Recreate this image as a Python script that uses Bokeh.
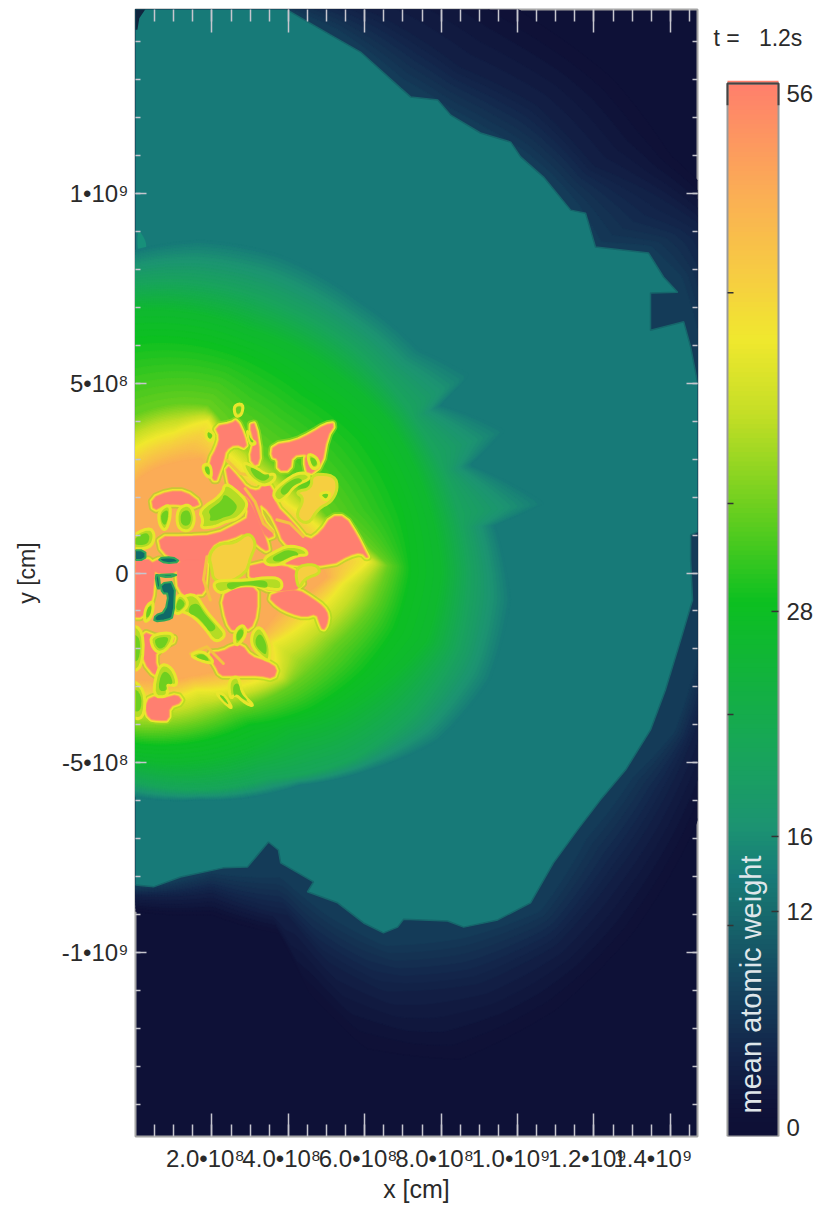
import numpy as np
from bokeh.embed import file_html
from bokeh.layouts import row
from bokeh.models import AllLabels, FixedTicker, Label, LinearAxis, Range1d
from bokeh.plotting import figure
from bokeh.resources import INLINE

UNIT = 1e8  # contour tables are in units of 1e8 cm
TIME_LABEL = "t =\u00a0\u00a0\u00a01.2s"
BAR_LABEL = "mean atomic weight"
PAD = "\u00a0\u00a0"
X_TICKS = [2e8, 4e8, 6e8, 8e8, 1e9, 1.2e9, 1.4e9]
X_LABELS = ["2.0•10⁸", "4.0•10⁸", "6.0•10⁸", "8.0•10⁸", "1.0•10⁹", "1.2•10⁹", "1.4•10⁹"]
Y_TICKS = [-1e9, -5e8, 0, 5e8, 1e9]
Y_LABELS = ["-1•10⁹", "-5•10⁸", "0", "5•10⁸", "1•10⁹"]
BAR_TICKS = [12, 16, 28]
BAR_TICK_LABELS = ["12", "16", "28"]
BAR_TICKS_LEFT = [11.25, 22.5, 33.75, 45]

# colour table: mean atomic weight -> colour
A_STOPS = [0, 1, 4, 8, 12, 13.3, 16, 20, 28, 33, 38, 42, 45, 50, 56]
C_STOPS = ["#0e1036", "#0f1238", "#13254a", "#154860", "#17706f", "#177a78", "#1c9372", "#18a55a",
           "#0cc020", "#6ccf1f", "#c4de26", "#f0e82e", "#f6cf40", "#fbac56", "#ff7c6e"]

# outer ejecta edge
EDGE = [(-1, 16), (0, 16), (3.93, 14.84), (5.1, 14.16), (5.89, 13.71), (6.94, 12.76), (7.2, 12.53), (7.91, 12.45),
        (8.25, 12.05), (9.03, 11.58), (9.82, 11.34), (10.08, 10.95), (10.68, 10.42), (11.39, 9.55), (11.78, 9.47),
        (12.04, 8.58), (13.43, 8.42), (13.82, 7.79), (14.19, 7.39), (13.48, 7.37), (13.48, 6.39), (14.35, 6.61),
        (14.53, 5.95), (14.8, 4.55), (14.8, 1.13), (14.53, 1.0), (14.53, .34), (14.58, -.71), (14.27, -1.76),
        (13.87, -3.08), (13.48, -4.13), (12.83, -5.18), (12.17, -5.97), (11.57, -6.76), (10.94, -7.63), (10.34, -8.68),
        (9.48, -9.13), (8.59, -9.32), (8.17, -9.16), (7.02, -9.11), (6.86, -9.32), (6.49, -9.47), (5.97, -9.21),
        (5.29, -8.68), (4.5, -8.39), (4.66, -8.13), (3.8, -7.63), (3.74, -7.29), (3.48, -7.08), (2.93, -7.74),
        (2.3, -7.76), (1.18, -8.0), (.47, -8.26), (0, -8.21), (-1, -8.21)]

# faint glow outside the edge: (weight, contour)
HALO = [
    (0.6, [(3.5, 16.5), (8, 16), (10.5, 14.5), (12.5, 13), (14, 11), (15.5, 9.5), (16, 6), (16, 1), (16, -1.5), (15.5, -4),
           (14.5, -7), (13, -9.5), (11, -11.5), (8.5, -12.8), (6, -12.5), (4.5, -11), (3.8, -9.5), (2, -9), (0, -8.9)]),
    (3.5, [(3.8, 15.5), (6.5, 14.6), (8.5, 13.3), (10.5, 12.3), (12, 10.7), (13.5, 10), (15, 9), (15.3, 7.5), (15.5, 1),
           (15.3, -1.7), (14.7, -4), (13.8, -6), (12.5, -8), (11, -9.8), (9, -10.8), (6.5, -11), (5, -10.2), (4, -9),
           (2, -8.4), (0, -8.5)]),
    (6.5, [(3.9, 14.9), (5.3, 14.3), (7, 13), (8.3, 12.2), (9.2, 11.7), (10.2, 11.1), (10.9, 10.5), (11.6, 9.7), (12.2, 8.7),
           (13.5, 8.6), (14.3, 7.8), (14.8, 6), (15, 1), (14.8, -1.8), (14.1, -4.2), (13, -5.4), (11.8, -7), (10.6, -8.9),
           (8.6, -9.6), (6.5, -9.8), (5, -9), (3.8, -8), (2, -7.9), (0, -8.3)]),
]

# contours of the inner glow: (weight, contour)
GLOW = [
    (13.3, [(0, 8.5), (1.7, 8.76), (3.8, 8.37), (5.89, 7.18), (7.46, 5.87), (8.77, 5.21), (7.98, 4.42), (9.69, 3.76),
            (8.77, 2.84), (10.73, 1.84), (9.42, 1.26), (9.82, -.71), (9.29, -2.82), (7.98, -4.39), (6.15, -5.18),
            (4.32, -5.58), (1.7, -5.97), (0, -5.89)]),
    (20, [(0, 7.6), (2.2, 7.5), (4, 6.9), (5.8, 5.8), (7.3, 4.0), (8.3, 2), (8.7, 0), (8.4, -2), (7.3, -3.7), (5.7, -4.9),
          (3.5, -5.4), (0, -5.5)]),
    (26, [(0, 6.9), (3, 6.4), (5.3, 5.2), (6.6, 4), (7.6, 2), (8, 0), (7.6, -1.8), (6.5, -2.9), (5.3, -3.7), (4, -4.1), (0, -4.9)]),
    (28, [(0, 6.2), (2.5, 5.9), (4.5, 4.8), (6, 3.6), (7, 1.6), (7.2, 0), (6.8, -1.5), (6, -2.6), (4.6, -3.6), (3, -4), (0, -4.5)]),
    (33, [(0, 4.15), (1.2, 4.45), (1.9, 4.4), (2.4, 3.8), (3.2, 3.2), (4, 2.5), (5, 1.5), (6.2, .6), (6.6, .2), (6.2, -.8), (5.2, -1.9),
          (4, -3.0), (2.5, -3.6), (0, -4.1)]),
    (42, [(0, 3.3), (1, 3.7), (1.9, 4.0), (2.2, 3.3), (3, 2.6), (4, 1.8), (5, 1), (6.1, .3), (5.43, -.27), (4.74, -1.06),
          (3.61, -1.85), (3.7, -2.64), (1.61, -3.08), (1, -3.3), (0, -3.4)]),
    (50, [(0, 2.4), (1, 2.9), (1.7, 3), (2.2, 2.4), (3, 1.8), (4, 1), (4.8, .4), (5, -.1), (3.8, -.9), (3, -1.8), (2.8, -2.3),
          (1.5, -2.7), (0, -2.8)]),
]

# iron-rich plumes
PLUMES = [
    [(2.09, 3.85), (2.52, 3.93), (2.65, 4.02), (2.83, 3.63), (2.91, 3.28), (2.61, 3.41), (2.35, 3.23), (2.3, 2.97), (2.17, 2.62),
     (2.09, 2.4), (1.96, 2.62), (1.96, 2.97), (2.13, 3.28), (2.22, 3.58)],
    [(3.0, 3.89), (3.13, 3.93), (3.26, 3.1), (3.17, 2.8), (3.0, 3.01), (3.11, 3.45)],
    [(3.61, 3.36), (4.17, 3.45), (4.61, 3.67), (4.96, 3.89), (5.22, 3.93), (5.0, 3.58), (4.87, 2.84), (4.52, 2.57), (4.43, 2.97),
     (4.52, 3.15), (4.09, 3.1), (4.04, 2.71), (3.74, 2.71), (3.74, 3.01), (3.57, 3.06)],
    [(2.35, 2.88), (2.7, 2.49), (2.91, 2.22), (3.22, 2.14), (3.35, 2.31), (3.57, 2.27), (3.65, 1.79), (4.09, 1.35), (4.52, .82),
     (4.87, 1.08), (5.13, 1.48), (5.48, 1.48), (5.78, 1.0), (6, .56), (6.09, .38), (5.91, .56), (5.57, .47), (5.13, .21), (4, .21),
     (3.83, .38), (4.17, .64), (3.87, .82), (3.74, 1.17), (3.52, 1.61), (3.22, 1.87), (3.3, 1.43), (3.65, 1), (3.43, .91),
     (3.22, 1.35), (3.04, 1.87), (2.87, 2.05), (2.48, 2.22)],
    [(.61, .95), (1.3, .95), (2.09, .99), (2.7, 1.3), (3.0, 1.48), (2.83, 2.05), (3.04, 1.79), (3.22, 1.35), (3.43, .82),
     (3.48, .56), (3.22, .73), (2.87, 1.08), (2.52, .91), (2.09, .82), (1.87, .51), (1.83, .21), (1.83, -.1), (1.13, .34), (.7, .55)],
    [(1.13, .34), (1.87, .34), (1.83, -.19), (1.78, -.54), (1.57, -.54), (1.48, -.71), (1.13, -.45), (1.09, 0)],
    [(-.2, .34), (.52, .34), (.48, -.19), (.43, -.71), (.22, -1.15), (-.2, -1.15)],
    [(.43, .34), (1.13, .34), (1.13, 0), (.43, 0)],
    [(2.26, -.62), (2.61, -.41), (3.17, -.32), (3.17, -1.06), (3.0, -1.5), (2.78, -1.33), (2.57, -1.55), (2.39, -1.28)],
    [(3.48, -.62), (3.83, -.49), (4.26, -.45), (4.61, -.67), (4.91, -.89), (5.04, -1.11), (5, -1.37), (4.91, -1.5), (4.83, -1.33),
     (4.74, -1.06), (4.43, -1.15), (4.09, -1.06), (3.74, -.89)],
    [(3.0, .3), (4.3, .1), (4.4, -.4), (3.6, -.5), (3.0, -.2)],
    [(1.87, -2.12), (2.3, -2.07), (2.52, -1.94), (2.78, -1.9), (3, -2.2), (3.43, -2.34), (3.7, -2.51), (3.61, -2.77), (3.26, -2.69),
     (2.78, -2.69), (2.48, -2.69), (2.22, -2.69), (2.09, -2.42)],
    [(.39, -3.26), (.78, -3.3), (1.09, -3.21), (1.22, -3.39), (.87, -3.52), (.87, -3.87), (.61, -3.87), (.35, -3.83), (.26, -3.52)],
    [(.17, -1.55), (.61, -1.72), (1.13, -1.72), (.52, -2.03), (.52, -2.47), (.74, -2.82), (.35, -2.55), (.17, -2.12)],
    [(.43, 1.96), (.87, 2.14), (1.3, 2.14), (1.7, 1.83), (1.48, 1.74), (1.04, 1.83), (.74, 1.79), (.48, 1.65)],
]

# yellow filaments running through the plumes
STRANDS = [
    [(2.87, 2.22), (3.13, 1.87), (3.35, 1.3), (3.61, 1.08)],
    [(2.39, 2.97), (2.74, 2.62), (3.17, 2.54)],
    [(3.7, 1.4), (4.04, 1.31), (4.39, .96)],
    [(1.87, .43), (1.78, -.18), (1.96, -.71)],
    [(1.44, -2.12), (1.87, -1.94), (2.3, -2.38)],
]

# pockets of lighter material inside the plumes
POCKETS = [
    [(.61, 1.65), (.91, 1.83), (.91, 1.43), (.78, 1.08), (.61, 1.3)],
    [(1.09, 1.7), (1.43, 1.83), (1.57, 1.43), (1.43, 1.08), (1.09, 1.17)],
    [(1.65, 1.65), (2.26, 2.05), (2.35, 2.4), (2.78, 2.05), (2.96, 1.79), (2.7, 1.43), (2.35, 1.35), (2.09, 1.22), (1.7, 1.17), (1.78, 1.39)],
    [(2.78, 2.93), (3.13, 2.79), (3.43, 2.57), (3.65, 2.62), (3.65, 2.44), (3.35, 2.27), (2.96, 2.53)],
    [(3.57, 2.14), (4.09, 2.57), (4.43, 2.66), (4.61, 2.49), (4.17, 2.31), (3.91, 1.96), (3.7, 1.87)],
    [(4.48, 3.15), (4.74, 3.06), (4.83, 2.8), (4.61, 2.71)],
    [(4.78, 2.09), (5.13, 2.14), (5, 1.87)],
    [(3.35, .38), (3.65, .56), (4, .73), (4.43, .64), (4.52, .47), (4.26, .47), (3.91, .3), (3.74, .21), (3.43, .21)],
    [(2.04, -.27), (2.22, -.19), (2.87, -.19), (3.57, -.1), (3.83, -.19), (3.83, -.45), (3.48, -.41), (3.04, -.32), (2.61, -.36),
     (2.26, -.54), (2.09, -.45)],
    [(1.22, -.62), (1.57, -.54), (1.83, -.98), (2.13, -1.33), (2.39, -1.63), (2.09, -1.85), (1.83, -1.46), (1.48, -1.11), (1.13, -.98)],
    [(2.57, -1.55), (2.83, -1.33), (2.91, -1.63), (2.61, -1.98)],
    [(3.04, -1.59), (3.26, -1.37), (3.52, -1.85), (3.52, -2.29), (3.39, -2.29), (3.04, -1.94)],
    [(1.39, -2.16), (1.78, -2.03), (2.09, -2.38), (1.78, -2.34)],
    [(2.43, -2.82), (2.7, -2.69), (2.78, -3.17), (3.13, -3.52), (2.87, -3.43), (2.61, -3.17), (2.48, -3.34)],
    [(2.09, -3.13), (2.3, -3.17), (2.57, -3.61), (2.3, -3.39)],
    [(.39, -1.63), (1.04, -1.55), (.87, -1.98), (.61, -2.12), (.43, -1.94)],
    [(.61, -2.38), (.96, -2.47), (1.13, -2.99), (.78, -2.91), (.87, -3.26), (.43, -3.26)],
    [(-.2, -1.33), (.22, -1.5), (.17, -2.55), (-.2, -2.55)],
    [(-.2, -2.73), (.26, -3.08), (.22, -3.87), (-.2, -3.78)],
    [(-.2, .91), (.35, 1.22), (.52, 1.0), (.39, .64), (-.2, .64)],
    [(.26, -.89), (.48, -.71), (.43, -1.15), (.22, -1.33)],
    [(1.13, -.49), (1.43, -.8), (1.13, -1.11), (.96, -.98)],
    [(2.57, 4.42), (2.83, 4.46), (2.78, 4.15), (2.61, 4.11)],
    [(1.87, 3.8), (2.09, 3.63), (1.96, 3.45), (1.84, 3.58)],
    [(1.74, 2.84), (1.96, 2.88), (2, 2.49), (1.83, 2.57)],
    [(2.91, 3.8), (3, 3.54), (3.17, 3.41), (3, 3.36)],
]

# warmer yellow-orange pockets
WARM = [
    [(4.61, 2.62), (5.22, 2.57), (5.3, 2.22), (5.13, 1.87), (4.78, 1.7), (4.52, 1.26), (4.17, 1.48), (4.43, 1.96), (4.17, 2.14), (4.61, 2.22)],
    [(1.91, .47), (2.17, .78), (2.61, .78), (2.96, 1.08), (3.17, .78), (3, .38), (2.96, .2), (2.87, .0), (2.43, -.27), (2.04, -.19), (2.0, .1)],
    [(4.17, .16), (4.7, .25), (4.87, 0), (4.43, -.14), (4.26, -.45)],
]

# low-weight pockets near the centre
DARK = [
    [(-.2, .6), (.26, .6), (.26, .34), (-.2, .34)],
    [(.57, .38), (.96, .43), (1.17, .29), (.78, .25)],
    [(.52, -.05), (1.13, -.03), (.87, -.12)],
    [(.52, -.05), (.61, -.05), (.65, -.41), (.57, -.41)],
    [(.65, -.27), (1.04, -.23), (1.0, -1.15), (.83, -1.24), (.48, -1.28), (.52, -1.11), (.78, -1.02), (.87, -.54), (.7, -.54)],
]
# small features
SPECK = [(.05, 9.1), (.3, 8.7), (.25, 8.4), (.05, 8.4)]
CORNER = [(-.1, 14.9), (.3, 14.9), (.1, 14.6), (.05, 14.3), (-.1, 14.3)]

RGB = np.array([[int(c[i:i + 2], 16) for i in (1, 3, 5)] for c in C_STOPS], dtype=float)


def colour(a):
    return "#%02x%02x%02x" % tuple(int(round(np.interp(a, A_STOPS, RGB[:, k]))) for k in range(3))


def radii(points, th, cy):
    pts = np.array(points, dtype=float)
    angle = np.arctan2(pts[:, 1] - cy, pts[:, 0])
    r = np.hypot(pts[:, 0], pts[:, 1] - cy)
    order = np.argsort(angle)
    return np.interp(th, angle[order], r[order])


def bands(levels, cy, step):
    th = np.linspace(-np.pi / 2, np.pi / 2, 361)
    xs, ys, cs = [], [], []
    rad = [radii(c, th, cy) for _, c in levels]
    for i in range(len(levels) - 1):
        a0, a1 = levels[i][0], levels[i + 1][0]
        n = max(2, int((a1 - a0) / step))
        for f in np.arange(n) / n:
            r = rad[i] * (1 - f) + rad[i + 1] * f
            xs.append(np.r_[-UNIT, r * np.cos(th) * UNIT, -UNIT])
            ys.append(np.r_[(cy - r[0]) * UNIT, (cy + r * np.sin(th)) * UNIT, (cy + r[-1]) * UNIT])
            cs.append(colour(a0 + (a1 - a0) * f))
    r = rad[-1]
    xs.append(np.r_[-UNIT, r * np.cos(th) * UNIT, -UNIT])
    ys.append(np.r_[(cy - r[0]) * UNIT, (cy + r * np.sin(th)) * UNIT, (cy + r[-1]) * UNIT])
    cs.append(colour(levels[-1][0]))
    return xs, ys, cs


def smooth(poly, rounds=2, scale=1.0):
    p = np.array(poly, dtype=float)
    for _ in range(rounds):
        q = np.roll(p, -1, axis=0)
        p = np.column_stack([.75 * p + .25 * q, .25 * p + .75 * q]).reshape(-1, 2)
    mid = p.mean(axis=0)
    return mid + (p - mid) * scale


def unpack(polys, scale=1.0, rounds=2):
    ps = [smooth(q, rounds=rounds, scale=scale) for q in polys]
    return [q[:, 0] * UNIT for q in ps], [q[:, 1] * UNIT for q in ps]


def raw(poly):
    p = np.array(poly, dtype=float) * UNIT
    return p[:, 0], p[:, 1]


FONT = "Liberation Sans"
TEXT = "#2a2a2a"
TICK = "#c6c6ce"

p = figure(frame_width=562, frame_height=1127, min_border_left=135, min_border_right=8, min_border_top=9,
           min_border_bottom=64, x_range=Range1d(0, 1.471e9), y_range=Range1d(-1.483e9, 1.483e9),
           output_backend="svg", toolbar_location=None, background_fill_color=colour(0.5),
           x_axis_location=None, y_axis_location=None)
p.grid.visible = False
p.outline_line_color = "#a4a4a4"
p.outline_line_width = 2

hx, hy, hc = bands(HALO, 1.1, 0.5)
p.patches(hx, hy, fill_color=hc, line_color=hc, line_width=1)
ex, ey = raw(EDGE)
p.patch(ex, ey, fill_color=colour(13.3), line_color=colour(11), line_width=1.5)
cx, cy_ = raw(CORNER)
p.patch(cx, cy_, fill_color="#10263f", line_color=None)
sx, sy = unpack([SPECK])
p.patches(sx, sy, fill_color="#17907a", line_color=None)
gx, gy, gc = bands(GLOW, 0.6, 0.5)
p.patches(gx, gy, fill_color=gc, line_color=gc, line_width=1)

mx, my = unpack(PLUMES, rounds=1)
p.patches(mx, my, fill_color=None, line_color="#a8d820", line_width=9, line_alpha=.6, line_join="round")
p.patches(mx, my, fill_color=None, line_color="#eee82e", line_width=5.5, line_join="round")
p.patches(mx, my, fill_color=None, line_color="#fbb050", line_width=2.5, line_join="round")
p.patches(mx, my, fill_color="#ff7f70", line_color="#ff7f70", line_width=.5)
p.multi_line([np.array(s)[:, 0] * UNIT for s in STRANDS], [np.array(s)[:, 1] * UNIT for s in STRANDS],
             line_color="#f3c440", line_width=3, line_join="round", line_cap="round")
wx, wy = unpack(WARM)
p.patches(wx, wy, fill_color="#f6cf40", line_color="#cfe028", line_width=3, line_join="round")
kx, ky = unpack(POCKETS)
p.patches(kx, ky, fill_color="#b4dc24", line_color="#e8e62c", line_width=3, line_join="round")
kx2, ky2 = unpack(POCKETS, scale=.6)
p.patches(kx2, ky2, fill_color="#62cc20", line_color=None, fill_alpha=.85)
dx, dy = unpack(DARK, rounds=1)
p.patches(dx, dy, fill_color="#0f6a68", line_color="#2fa75a", line_width=2, line_join="round")

x_minor = [i * 5e7 for i in range(1, 30)]
y_minor = [i * 1e8 for i in range(-14, 15)]
x_over = {t: s + PAD for t, s in zip(X_TICKS, X_LABELS)}
y_over = dict(zip(Y_TICKS, Y_LABELS))


def ticker(major, minor):
    return FixedTicker(ticks=major, minor_ticks=minor)


def style(ax, major_in, minor_in):
    ax.axis_line_color = None
    ax.major_tick_in = major_in
    ax.major_tick_out = 0
    ax.minor_tick_in = minor_in
    ax.minor_tick_out = 0
    ax.major_tick_line_color = TICK
    ax.minor_tick_line_color = TICK
    ax.major_tick_line_width = 1.5
    ax.minor_tick_line_width = 1.5


below = LinearAxis(ticker=ticker(X_TICKS, x_minor), major_label_overrides=x_over, major_label_policy=AllLabels(),
                   axis_label="x [cm]", axis_label_text_font=FONT, axis_label_text_font_size="25px",
                   axis_label_text_font_style="normal", axis_label_text_color=TEXT, axis_label_standoff=0,
                   major_label_text_font=FONT, major_label_text_font_size="24px", major_label_text_color=TEXT,
                   major_label_standoff=8)
style(below, 23, 12)
p.add_layout(below, "below")
left = LinearAxis(ticker=ticker(Y_TICKS, y_minor), major_label_overrides=y_over, major_label_policy=AllLabels(),
                  axis_label="y [cm]", axis_label_text_font=FONT, axis_label_text_font_size="23px",
                  axis_label_text_font_style="normal", axis_label_text_color=TEXT, axis_label_standoff=19,
                  major_label_text_font=FONT, major_label_text_font_size="24px", major_label_text_color=TEXT,
                  major_label_standoff=7)
style(left, 11, 5)
p.add_layout(left, "left")
above = LinearAxis(ticker=ticker(X_TICKS, x_minor), major_label_text_font_size="0px", major_label_standoff=0,
                   major_label_text_color=None)
style(above, 23, 12)
p.add_layout(above, "above")
right = LinearAxis(ticker=ticker(Y_TICKS, y_minor), major_label_text_font_size="0px", major_label_standoff=0,
                   major_label_text_color=None)
style(right, 11, 5)
p.add_layout(right, "right")

# colour bar: the frame spans the whole strip; the bar itself runs 0..1 on the x range
bar_top = 56.16
bar_levels = np.arange(0, bar_top, 0.25)
px_unit = 1 / 51
c = figure(frame_width=113, frame_height=1127, min_border_left=0, min_border_right=0, min_border_top=9,
           min_border_bottom=64, x_range=Range1d(-22 * px_unit, 91 * px_unit), y_range=Range1d(0, 60.1),
           output_backend="svg", toolbar_location=None, x_axis_location=None, y_axis_location=None)
c.grid.visible = False
c.outline_line_color = None
c.quad(left=0, right=1, bottom=bar_levels, top=bar_levels + 0.3,
       fill_color=[colour(max(a - 0.4, 0.2)) for a in bar_levels], line_color=None)
c.line([0, 0, 1, 1, 0], [0, bar_top, bar_top, 0, 0], line_color="#9a9a9a", line_width=2)
c.line([0, 0, 1, 1], [55, bar_top, bar_top, 55], line_color="#444444", line_width=2)
c.segment(x0=[1] * len(BAR_TICKS), x1=[1 - 7 * px_unit] * len(BAR_TICKS), y0=BAR_TICKS, y1=BAR_TICKS,
          line_color="#333333", line_width=1.5)
c.segment(x0=[0] * len(BAR_TICKS_LEFT), x1=[6 * px_unit] * len(BAR_TICKS_LEFT), y0=BAR_TICKS_LEFT, y1=BAR_TICKS_LEFT,
          line_color="#333333", line_width=1.5)
for txt, yv in list(zip(BAR_TICK_LABELS, BAR_TICKS)) + [("0", 0.48), ("56", 55.64)]:
    c.add_layout(Label(x=1 + 8 * px_unit, y=yv, text=txt, text_font=FONT, text_font_size="24px", text_color=TEXT,
                       text_baseline="middle", text_align="left"))
c.add_layout(Label(x=-14 * px_unit, y=58.6, text=TIME_LABEL, text_font=FONT, text_font_size="23px", text_color=TEXT,
                   text_baseline="middle", text_align="left"))
c.add_layout(Label(x=0.47, y=1.23, text=BAR_LABEL, angle=np.pi / 2, text_font=FONT, text_font_size="29px",
                   text_color="#dfe6ea", text_baseline="middle", text_align="left"))

page = row(p, c, spacing=0)
open("out.html", "w").write(file_html(page, INLINE))
